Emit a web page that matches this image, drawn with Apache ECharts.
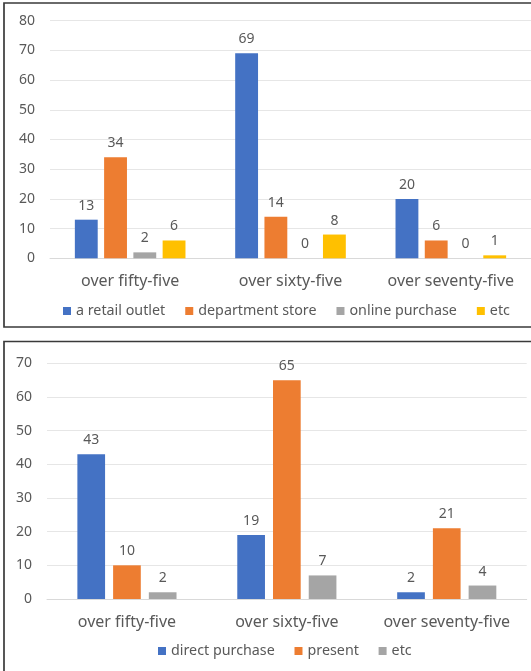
<!DOCTYPE html>
<html>
<head>
<meta charset="utf-8">
<script src="https://cdn.jsdelivr.net/npm/echarts@6/dist/echarts.min.js"></script>
<style>
html,body{margin:0;padding:0;background:#fff;overflow:hidden;}
#c{width:531px;height:671px;}
</style>
</head>
<body>
<div id="c"></div>
<script>
// ---- data ----
var categories = ['over fifty-five', 'over sixty-five', 'over seventy-five'];

var topSeriesNames = ['a retail outlet', 'department store', 'online purchase', 'etc'];
var retailOutlet = [13, 69, 20];
var departmentStore = [34, 14, 6];
var onlinePurchase = [2, 0, 0];
var topEtc = [6, 8, 1];

var bottomSeriesNames = ['direct purchase', 'present', 'etc'];
var directPurchase = [43, 19, 2];
var present = [10, 65, 21];
var bottomEtc = [2, 7, 4];

var topAxisMax = 80;
var bottomAxisMax = 70;
var axisStep = 10;

// ---- styles ----
var FONT = 'Noto Sans';
var TXT = '#595959';
var colTop = ['#4472C4', '#ED7D31', '#A5A5A5', '#FFC000'];
var colBottom = ['#4472C4', '#ED7D31', '#A5A5A5'];

function catAxis(gi) {
  return {
    type: 'category', gridIndex: gi, data: categories,
    axisLine: {show: true, lineStyle: {color: '#D9D9D9'}},
    axisTick: {show: false},
    axisLabel: {color: TXT, fontFamily: FONT, fontSize: 16, margin: 15, interval: 0, hideOverlap: false}
  };
}
function valAxis(gi, max) {
  return {
    type: 'value', gridIndex: gi, min: 0, max: max, interval: axisStep,
    axisLine: {show: false}, axisTick: {show: false},
    splitLine: {lineStyle: {color: '#E6E6E6', width: 1}},
    axisLabel: {color: TXT, fontFamily: FONT, fontSize: 14, margin: 15}
  };
}
function barSeries(name, data, gi, color, gap, catGap) {
  return {
    type: 'bar', name: name, data: data, xAxisIndex: gi, yAxisIndex: gi,
    itemStyle: {color: color},
    barGap: gap, barCategoryGap: catGap,
    label: {show: true, position: 'top', distance: 7, color: TXT, fontFamily: FONT, fontSize: 14},
    animation: false
  };
}

var topData = [retailOutlet, departmentStore, onlinePurchase, topEtc];
var bottomData = [directPurchase, present, bottomEtc];
var series = [];
topSeriesNames.forEach(function (n, i) { series.push(barSeries(n, topData[i], 0, colTop[i], '28%', '31%')); });
bottomSeriesNames.forEach(function (n, i) { series.push(barSeries(n + ' ', bottomData[i], 1, colBottom[i], '29%', '38%')); });

var legendText = {color: TXT, fontFamily: FONT, fontSize: 14.3};

var chart = echarts.init(document.getElementById('c'), null, {renderer: 'canvas'});
chart.setOption({
  animation: false,
  backgroundColor: '#fff',
  textStyle: {fontFamily: FONT},
  graphic: [
    {type: 'rect', shape: {x: 4, y: 3, width: 540, height: 324}, style: {fill: 'none', stroke: '#3a3a3a', lineWidth: 1.7}, z: 100},
    {type: 'rect', shape: {x: 4, y: 341.5, width: 540, height: 400}, style: {fill: 'none', stroke: '#3a3a3a', lineWidth: 1.7}, z: 100}
  ],
  grid: [
    {left: 50, right: -3, top: 20.7, bottom: 412.7},
    {left: 47, right: 4.3, top: 363.3, bottom: 72}
  ],
  xAxis: [catAxis(0), catAxis(1)],
  yAxis: [valAxis(0, topAxisMax), valAxis(1, bottomAxisMax)],
  legend: [
    {data: topSeriesNames, left: 58, top: 299, icon: 'rect', itemWidth: 8, itemHeight: 8, itemGap: 20,
     textStyle: legendText},
    {data: bottomSeriesNames.map(function (n) { return n + ' '; }), left: 153, top: 639, icon: 'rect', itemWidth: 8, itemHeight: 8, itemGap: 16,
     textStyle: legendText}
  ],
  series: series
});
</script>
</body>
</html>
